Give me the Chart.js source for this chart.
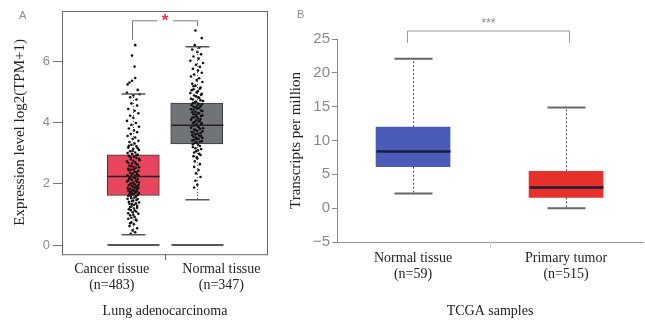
<!DOCTYPE html>
<html>
<head>
<meta charset="utf-8">
<script src="https://cdn.jsdelivr.net/npm/chart.js@4.4.1/dist/chart.umd.min.js"></script>
<style>
  body { margin: 0; background: #fff; }
  #wrap { position: relative; width: 645px; height: 324px; overflow: hidden; }
  canvas { position: absolute; top: 0; }
  .tag { position: absolute; font: 11px "Liberation Sans", sans-serif; color: #8a8a8a; }
</style>
</head>
<body>
<div id="wrap">
  <canvas id="chartA" width="272" height="324" style="left:0"></canvas>
  <canvas id="chartB" width="373" height="324" style="left:272px"></canvas>
  <div class="tag" style="left:19px;top:9px">A</div>
  <div class="tag" style="left:297px;top:8px">B</div>
</div>
<script>
// ---- panel A: GEPIA, log2(TPM+1)
const groupsA = ["Cancer tissue", "Normal tissue"];
const countsA = [483, 347];
const q1A = [1.62, 3.30];
const medA = [2.24, 3.91];
const q3A = [2.94, 4.63];
const loA = [0.34, 1.48];
const hiA = [4.93, 6.47];
const yTicksA = [0, 2, 4, 6];

// jittered sample points [x, y]
const cancerPts = [
  [1.03,6.52],[0.98,6.18],[1.02,5.82],[1.03,5.45],[0.98,5.36],[0.94,5.30],[0.91,5.24],[1.07,5.06],
  [0.90,4.97],[1.10,4.92],[1.00,4.88],[0.95,4.82],[1.05,4.75],[0.97,4.62],[1.06,4.55],[0.92,4.44],
  [1.02,4.38],[1.08,4.30],[0.95,4.22],[1.00,4.15],[0.90,4.05],[1.04,3.98],[0.97,3.92],[1.09,3.86],
  [0.93,3.80],[1.01,3.74],[1.06,3.68],[0.96,3.62],[0.91,3.56],[1.03,3.51],[0.99,3.46],[1.08,3.40],
  [0.94,3.36],[1.02,3.31],[0.97,3.27],[1.05,3.22],[0.92,3.18],[1.00,3.14],[1.09,3.10],[0.95,3.06],
  [1.03,3.02],[0.98,2.98],[1.07,2.95],[0.93,2.91],[1.01,2.88],[1.05,2.84],[0.96,2.80],[1.10,2.77],
  [0.90,2.73],[1.03,2.70],[0.98,2.66],[1.07,2.62],[0.94,2.59],[1.00,2.56],[1.04,2.52],[0.92,2.49],
  [0.97,2.46],[1.08,2.42],[1.02,2.39],[0.95,2.36],[0.99,2.33],[1.06,2.30],[0.91,2.28],[1.03,2.26],
  [0.97,2.25],[1.01,2.21],[0.94,2.18],[1.07,2.15],[0.98,2.12],[1.04,2.10],[0.90,2.07],[1.09,2.04],
  [0.96,2.01],[1.02,1.98],[0.93,1.95],[1.05,1.92],[0.99,1.90],[1.08,1.87],[0.95,1.84],[1.01,1.81],
  [0.92,1.78],[1.06,1.75],[0.97,1.72],[1.03,1.70],[0.94,1.67],[1.00,1.65],[1.07,1.63],[0.96,1.59],
  [1.02,1.55],[0.91,1.51],[1.05,1.47],[0.98,1.43],[1.09,1.39],[0.94,1.35],[1.01,1.31],[0.97,1.26],
  [1.06,1.22],[0.93,1.17],[1.03,1.12],[0.99,1.07],[1.08,1.02],[0.95,0.97],[1.02,0.92],[0.92,0.86],
  [1.05,0.80],[0.97,0.74],[1.01,0.68],[0.94,0.62],[1.06,0.55],[0.99,0.48],[1.03,0.42],[0.96,0.37],
  [0.93,3.24],[1.07,3.16],[0.99,3.08],[0.91,3.00],[1.05,2.93],[0.96,2.86],[1.09,2.81],[1.00,2.75],
  [0.92,2.68],[1.05,2.64],[0.96,2.57],[1.09,2.54],[1.01,2.47],[0.93,2.44],[1.05,2.37],[0.98,2.31],
  [1.08,2.27],[0.94,2.22],[1.03,2.19],[0.97,2.14],[0.92,2.11],[1.06,2.06],[1.00,2.03],[0.95,1.99],
  [1.08,1.96],[0.98,1.93],[1.03,1.88],[0.91,1.86],[1.06,1.82],[0.98,1.79],[1.02,1.76],[0.95,1.73],
  [1.09,1.69],[0.99,1.66],[0.92,1.61],[1.04,1.58],[0.97,1.53],[1.07,1.50],[1.00,1.45],[0.93,1.41],
  [1.04,1.36],[0.98,1.33],[1.06,1.28],[0.95,1.24],[1.01,1.19],[0.96,1.14],[1.05,1.09],[0.92,1.04],
  [1.00,0.99],[0.97,0.89],[1.04,0.83],[0.95,0.71]
];
const normalPts = [
  [1.98,7.00],[2.08,6.75],[1.97,6.52],[2.04,6.44],[1.93,6.38],[2.01,6.30],[2.07,6.22],[1.95,6.15],
  [2.03,6.08],[1.90,6.01],[2.10,5.94],[1.99,5.88],[2.05,5.81],[1.94,5.75],[2.02,5.69],[2.08,5.62],
  [1.96,5.56],[1.91,5.50],[2.04,5.44],[2.00,5.38],[2.09,5.32],[1.93,5.26],[1.98,5.20],[2.06,5.14],
  [1.95,5.08],[2.02,5.02],[1.90,4.96],[2.07,4.90],[1.99,4.85],[2.04,4.80],[1.94,4.75],[2.10,4.70],
  [1.97,4.66],[2.03,4.61],[1.92,4.57],[2.06,4.53],[1.98,4.49],[2.01,4.45],[1.95,4.41],[2.09,4.37],
  [1.93,4.33],[2.04,4.29],[1.99,4.25],[2.07,4.21],[1.96,4.17],[2.02,4.13],[1.91,4.09],[2.05,4.05],
  [1.97,4.01],[2.08,3.97],[2.00,3.94],[1.94,3.89],[2.03,3.85],[2.10,3.81],[1.96,3.77],[2.01,3.73],
  [1.92,3.69],[2.06,3.65],[1.98,3.61],[2.04,3.57],[1.95,3.53],[2.09,3.49],[2.00,3.45],[1.93,3.41],
  [2.05,3.37],[1.97,3.33],[2.02,3.27],[1.94,3.20],[2.07,3.13],[1.99,3.06],[2.04,2.98],[1.95,2.90],
  [2.01,2.82],[1.97,2.73],[2.05,2.64],[1.96,2.55],[2.03,2.45],[1.99,2.34],[2.06,2.22],[1.98,2.10],
  [2.01,1.97],[1.96,1.88],
  [1.95,5.18],[2.05,5.10],[1.92,5.05],[2.00,4.98],[2.08,4.93],[1.96,4.88],[2.02,4.82],[1.91,4.77],
  [2.06,4.72],[1.99,4.68],[1.94,4.63],[2.08,4.59],[2.01,4.55],[1.95,4.51],[2.04,4.47],[1.91,4.43],
  [2.07,4.39],[1.98,4.35],[2.02,4.31],[1.95,4.27],[2.09,4.23],[2.00,4.19],[1.93,4.15],[2.06,4.11],
  [1.99,4.07],[2.03,4.03],[1.94,3.99],[2.07,3.95],[1.97,3.91],[2.02,3.87],[1.91,3.83],[2.05,3.79],
  [1.98,3.75],[2.09,3.71],[1.95,3.67],[2.01,3.63],[1.93,3.59],[2.07,3.55],[1.99,3.51],[2.03,3.47],
  [1.96,3.43],[2.08,3.39],[2.00,3.35],[1.94,3.29],[2.05,3.23],[1.98,3.16],[2.02,3.09],[1.96,3.02],
  [2.06,2.94],[2.00,2.86]
];

// ---- panel B: TCGA, transcripts per million
const groupsB = ["Normal tissue", "Primary tumor"];
const countsB = [59, 515];
const q1B = [6.14, 1.57];
const medB = [8.37, 3.06];
const q3B = [11.97, 5.44];
const loB = [2.17, 0.0];
const hiB = [22.08, 14.86];
const yTicksB = [-5, 0, 5, 10, 15, 20, 25];

const serif = "'Liberation Serif', 'Times New Roman', serif";
const sans = "'Liberation Sans', Arial, sans-serif";

// whiskers, caps, medians (and the zero row in A) drawn on the library's scales
const boxExtras = {
  id: "boxExtras",
  afterDatasetsDraw(chart, args, o) {
    const ctx = chart.ctx, xs = chart.scales.x, ys = chart.scales.y;
    const bars = chart.getDatasetMeta(0).data;
    ctx.save();
    o.med.forEach((m, i) => {
      const cx = Math.round(xs.getPixelForValue(i + 1)) + 0.5;
      const half = bars[i].width / 2;
      ctx.strokeStyle = o.whiskColor;
      ctx.lineWidth = 1;
      ctx.setLineDash(o.dash);
      ctx.beginPath();
      ctx.moveTo(cx, ys.getPixelForValue(o.q3[i]));
      ctx.lineTo(cx, ys.getPixelForValue(o.hi[i]));
      ctx.moveTo(cx, ys.getPixelForValue(o.q1[i]));
      ctx.lineTo(cx, ys.getPixelForValue(o.lo[i]));
      ctx.stroke();
      ctx.setLineDash([]);
      ctx.strokeStyle = o.capColor;
      ctx.lineWidth = o.capWidth;
      ctx.beginPath();
      [o.hi[i], o.lo[i]].forEach(v => {
        const py = ys.getPixelForValue(v);
        ctx.moveTo(cx - o.capHalf, py);
        ctx.lineTo(cx + o.capHalf, py);
      });
      ctx.stroke();
      ctx.strokeStyle = o.medColor;
      ctx.lineWidth = o.medWidth;
      ctx.beginPath();
      const my = ys.getPixelForValue(m);
      ctx.moveTo(cx - half, my);
      ctx.lineTo(cx + half, my);
      if (o.zeroRow) {
        const zy = ys.getPixelForValue(0);
        ctx.moveTo(cx - half, zy);
        ctx.lineTo(cx + half, zy);
      }
      ctx.stroke();
    });
    ctx.restore();
  },
  afterDraw(chart, args, o) {
    const ctx = chart.ctx, a = chart.chartArea, xs = chart.scales.x;
    const x1 = xs.getPixelForValue(1), x2 = xs.getPixelForValue(2);
    ctx.save();
    if (o.frame) {
      ctx.strokeStyle = "#666";
      ctx.lineWidth = 1;
      ctx.strokeRect(Math.round(a.left) + 0.5, Math.round(a.top) + 0.5, a.right - a.left - 1, a.bottom - a.top);
      ctx.beginPath();
      const mid = Math.round((a.left + a.right) / 2) + 0.5;
      ctx.moveTo(mid, a.bottom);
      ctx.lineTo(mid, a.bottom + 6);
      ctx.stroke();
    } else {
      ctx.strokeStyle = "#d0d0d0";
      ctx.lineWidth = 1;
      ctx.beginPath();
      const mid = Math.round(xs.getPixelForValue(1.5)) + 0.5;
      ctx.moveTo(mid, a.bottom);
      ctx.lineTo(mid, a.bottom + 6);
      ctx.stroke();
    }
    // significance bracket
    const b = o.bracket;
    const top = a.top + b.top;
    ctx.strokeStyle = b.color;
    ctx.lineWidth = 1;
    ctx.beginPath();
    const lx = Math.round(x1 + b.shiftL) + 0.5, rx = Math.round(x2 + b.shiftR) + 0.5;
    const sx = (lx + rx) / 2;
    ctx.moveTo(lx, a.top + b.legL);
    ctx.lineTo(lx, top);
    ctx.lineTo(sx - b.gap, top);
    ctx.moveTo(sx + b.gap, top);
    ctx.lineTo(rx, top);
    ctx.lineTo(rx, a.top + b.legR);
    ctx.stroke();
    ctx.fillStyle = b.starColor;
    ctx.font = b.starFont;
    ctx.textAlign = "center";
    ctx.textBaseline = "middle";
    ctx.fillText(b.star, sx, top + b.starDy);
    ctx.restore();
  }
};

new Chart(document.getElementById("chartA"), {
  type: "bar",
  data: {
    datasets: [
      {
        type: "bar",
        order: 2,
        data: groupsA.map((g, i) => ({ x: i + 1, y: [q1A[i], q3A[i]] })),
        backgroundColor: ["#e8465e", "#707479"],
        borderColor: "#3a3a3a",
        borderWidth: 1,
        borderSkipped: false,
        barThickness: 52
      },
      {
        type: "scatter",
        order: 1,
        data: cancerPts.concat(normalPts).map(p => ({ x: p[0], y: p[1] })),
        backgroundColor: "#111",
        borderWidth: 0,
        pointRadius: 1.3
      }
    ]
  },
  options: {
    responsive: false,
    animation: false,
    layout: { padding: { top: 7, right: 2, left: 0, bottom: 0 } },
    plugins: {
      legend: { display: false },
      tooltip: { enabled: false },
      boxExtras: {
        q1: q1A, med: medA, q3: q3A, lo: loA, hi: hiA,
        dash: [1, 2], whiskColor: "#444", capColor: "#555", capWidth: 1.5, capHalf: 12,
        medColor: "#222", medWidth: 1.5, zeroRow: true, frame: true,
        bracket: { top: 10, legL: 29, legR: 15, shiftL: -1, shiftR: 0, gap: 8, color: "#777",
          star: "*", starColor: "#e8304a", starFont: "bold 17px " + sans, starDy: 1 }
      }
    },
    scales: {
      x: {
        type: "linear",
        offset: false,
        min: -0.125,
        max: 3.125,
        afterFit: s => { s.height = 70; },
        afterBuildTicks: s => { s.ticks = [{ value: 0.66 }, { value: 2.39 }]; },
        grid: { display: false, drawTicks: false, offset: false },
        border: { display: false },
        ticks: {
          padding: 7,
          maxRotation: 0,
          autoSkip: false,
          color: "#222",
          font: { family: serif, size: 14, lineHeight: 1.15 },
          callback: (v, i) => [groupsA[i], "(n=" + countsA[i] + ")"]
        },
        title: {
          display: true,
          text: "Lung adenocarcinoma",
          color: "#222",
          font: { family: serif, size: 14 },
          padding: { top: 0, bottom: 4 }
        }
      },
      y: {
        min: -0.29,
        max: 7.64,
        afterFit: s => { s.width = 62; },
        afterBuildTicks: s => { s.ticks = yTicksA.map(v => ({ value: v })); },
        grid: { drawOnChartArea: false, drawTicks: true, tickLength: 9, color: "#777" },
        border: { display: false },
        ticks: { padding: 3, color: "#8a8a8a", font: { family: sans, size: 13 } },
        title: {
          display: true,
          text: "Expression level log2(TPM+1)",
          color: "#222",
          font: { family: serif, size: 15 },
          padding: { top: 11, bottom: 0 }
        }
      }
    }
  },
  plugins: [boxExtras]
});

new Chart(document.getElementById("chartB"), {
  type: "bar",
  data: {
    datasets: [
      {
        data: groupsB.map((g, i) => ({ x: i + 1, y: [q1B[i], q3B[i]] })),
        backgroundColor: ["#4b5cb8", "#e8302a"],
        borderWidth: 0,
        barThickness: 74
      }
    ]
  },
  options: {
    responsive: false,
    animation: false,
    layout: { padding: { top: 39, right: 2, left: 0, bottom: 0 } },
    plugins: {
      legend: { display: false },
      tooltip: { enabled: false },
      boxExtras: {
        q1: q1B, med: medB, q3: q3B, lo: loB, hi: hiB,
        dash: [2, 2], whiskColor: "#555", capColor: "#666", capWidth: 2, capHalf: 19,
        medColor: "#1b1b3a", medWidth: 2.5, zeroRow: false, frame: false,
        bracket: { top: -8, legL: 4, legR: 4, shiftL: -6, shiftR: 3, gap: 0, color: "#999",
          star: "***", starColor: "#888", starFont: "12px " + sans, starDy: -7 }
      }
    },
    scales: {
      x: {
        type: "linear",
        offset: false,
        min: 0.503,
        max: 2.503,
        afterFit: s => { s.height = 82; },
        afterBuildTicks: s => { s.ticks = [{ value: 1 }, { value: 2 }]; },
        grid: { display: false, drawTicks: false, offset: false },
        border: { display: true, color: "#999" },
        ticks: {
          padding: 9,
          maxRotation: 0,
          autoSkip: false,
          color: "#222",
          font: { family: serif, size: 14, lineHeight: 1.1 },
          callback: (v, i) => [groupsB[i], "(n=" + countsB[i] + ")"]
        },
        title: {
          display: true,
          text: "TCGA samples",
          color: "#222",
          font: { family: serif, size: 14 },
          padding: { top: 0, bottom: 4 }
        }
      },
      y: {
        min: -5,
        max: 25,
        afterFit: s => { s.width = 65; },
        afterBuildTicks: s => { s.ticks = yTicksB.map(v => ({ value: v })); },
        grid: { drawOnChartArea: false, drawTicks: true, tickLength: 5, color: "#888" },
        border: { display: true, color: "#888" },
        ticks: {
          padding: 2,
          color: "#8a8a8a",
          font: { family: sans, size: 15 },
          callback: v => (v < 0 ? "\u2212" + Math.abs(v) : String(v))
        },
        title: {
          display: true,
          text: "Transcripts per million",
          color: "#222",
          font: { family: serif, size: 15 },
          padding: { top: 15, bottom: 0 }
        }
      }
    }
  },
  plugins: [boxExtras]
});
</script>
</body>
</html>
